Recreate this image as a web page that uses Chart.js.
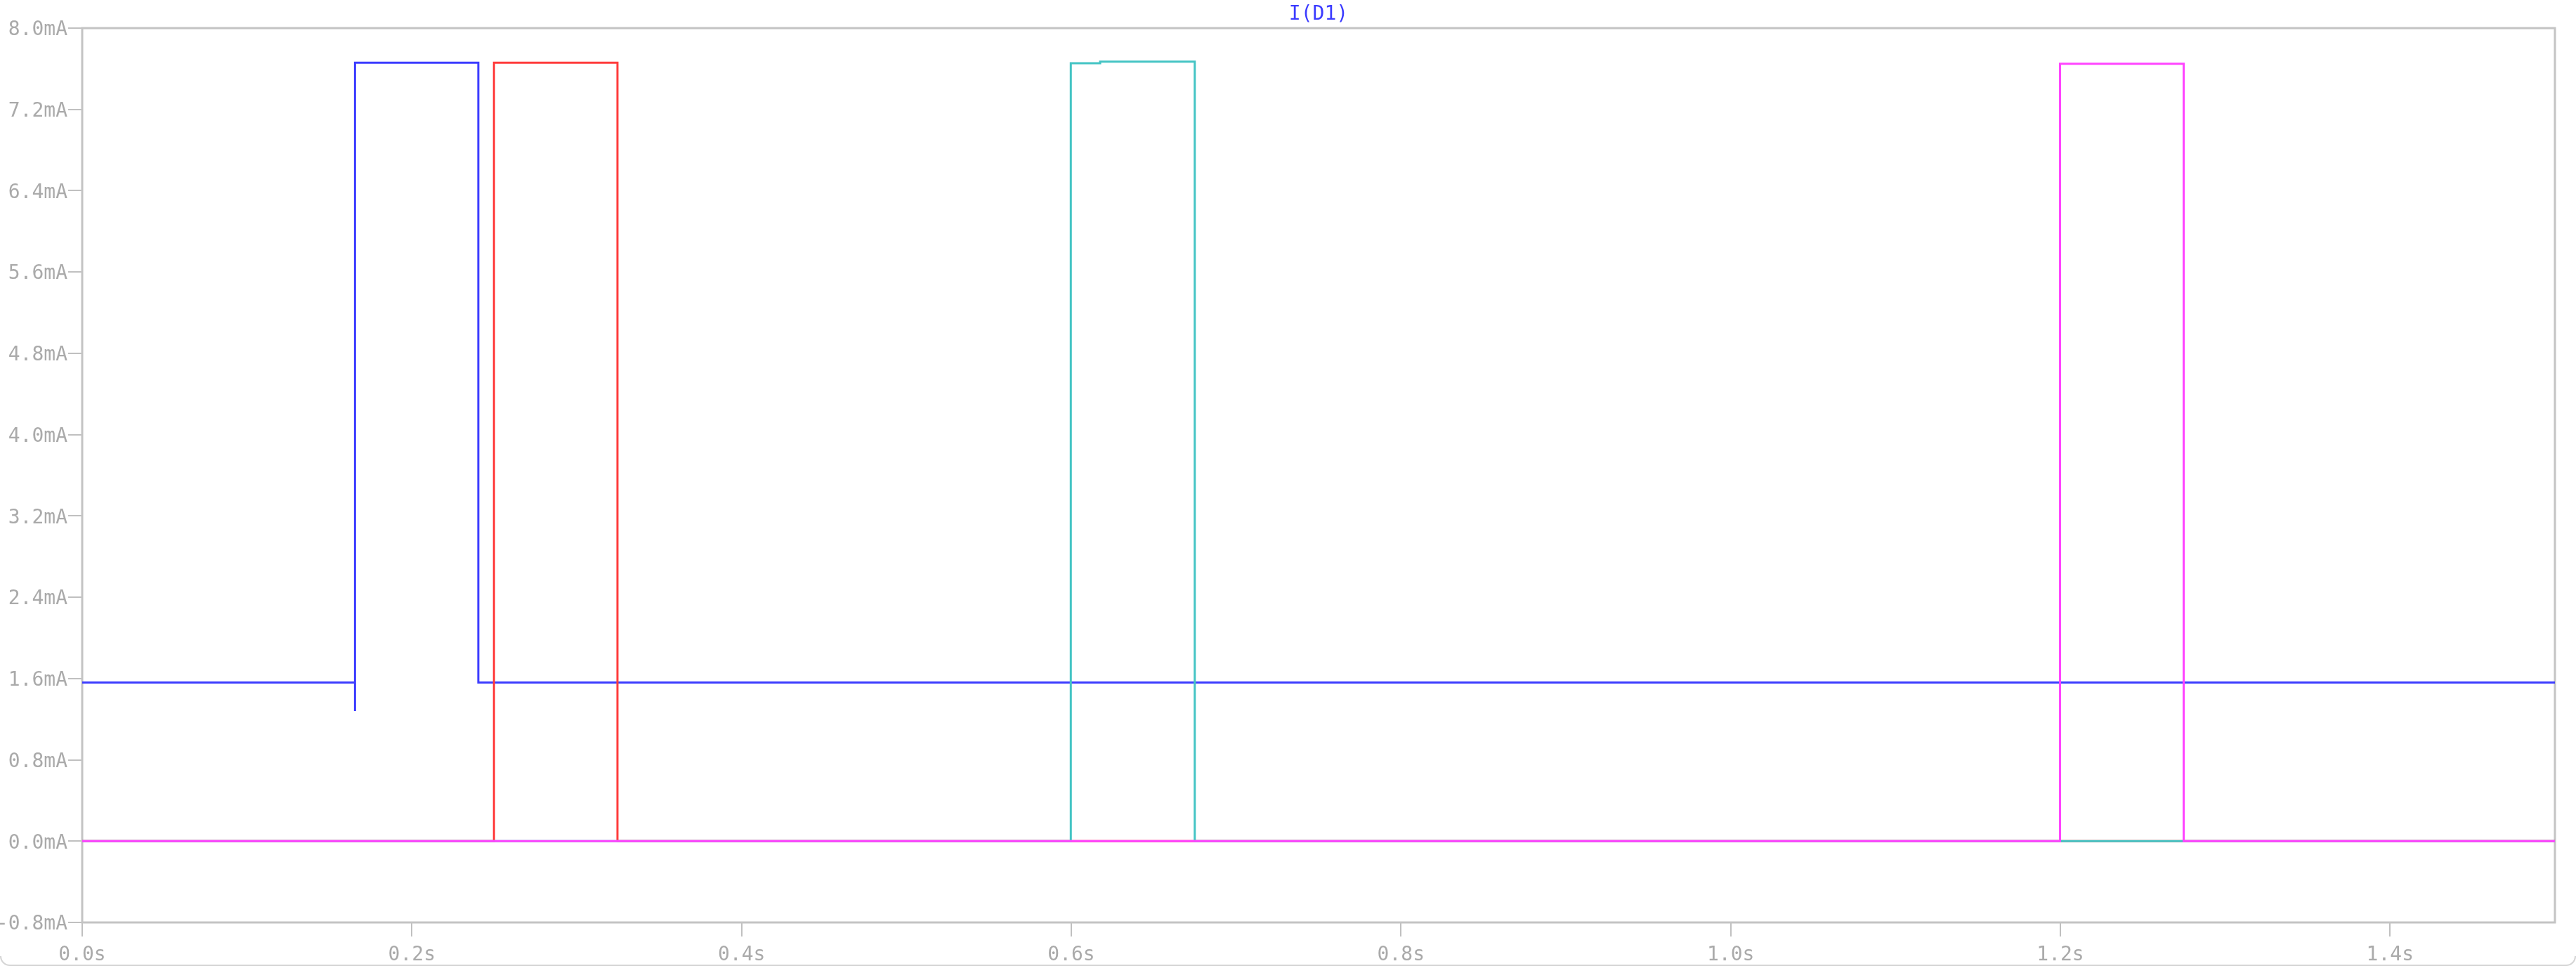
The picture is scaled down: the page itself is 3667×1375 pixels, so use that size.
<!DOCTYPE html>
<html>
<head>
<meta charset="utf-8">
<script src="https://cdn.jsdelivr.net/npm/chart.js@4/dist/chart.umd.min.js"></script>
<style>
  html, body { margin: 0; padding: 0; background: #ffffff; overflow: hidden; }
  #wrap { width: 3667px; height: 1375px; position: relative; }
  #edge { position: absolute; left: 0; right: 0; bottom: 0; height: 14px;
          border: 2px solid #d4d4d4; border-top: none;
          border-radius: 0 0 14px 14px; box-sizing: border-box; pointer-events: none; }
</style>
</head>
<body>
<div id="wrap"><canvas id="c" width="3667" height="1375"></canvas><div id="edge"></div></div>
<script>
// ---- data (time in s, current in mA); each point is where the trace changes value ----
const titleText = "I(D1)";
const yTicks = [-0.8, 0.0, 0.8, 1.6, 2.4, 3.2, 4.0, 4.8, 5.6, 6.4, 7.2, 8.0];
const xTicks = [0.0, 0.2, 0.4, 0.6, 0.8, 1.0, 1.2, 1.4];

const blueT = [0.0, 0.1655, 0.1655, 0.2403, 1.5];
const blueI = [1.56, 1.28, 7.66, 1.56, 1.56];

const redT = [0.0, 0.2498, 0.3247, 1.5];
const redI = [0.0, 7.66, 0.0, 0.0];

const cyanT = [0.0, 0.5997, 0.6175, 0.6749, 1.5];
const cyanI = [0.0, 7.655, 7.67, 0.0, 0.0];

const magentaT = [0.0, 1.1998, 1.2748, 1.5];
const magentaI = [0.0, 7.65, 0.0, 0.0];

function pts(t, v) { return t.map((x, i) => ({ x: x, y: v[i] })); }

const frame = {
  id: 'frame',
  beforeDatasetsDraw(chart) {
    const a = chart.chartArea, ctx = chart.ctx;
    ctx.save();
    ctx.strokeStyle = '#c4c4c4';
    ctx.lineWidth = 3;
    ctx.strokeRect(a.left, a.top, a.right - a.left, a.bottom - a.top);
    ctx.restore();
  }
};

const mono = "'DejaVu Sans Mono', 'Liberation Mono', monospace";

function ds(label, t, v, color) {
  return {
    label: label, data: pts(t, v), borderColor: color, backgroundColor: color,
    borderWidth: 3, pointRadius: 0, stepped: 'before', fill: false, tension: 0
  };
}

new Chart(document.getElementById('c'), {
  type: 'line',
  data: {
    datasets: [
      ds('step 4', magentaT, magentaI, '#ff44ff'),
      ds('step 3', cyanT, cyanI, '#44c4c4'),
      ds('step 2', redT, redI, '#ff3c3c'),
      ds('step 1', blueT, blueI, '#3c3cff')
    ]
  },
  options: {
    responsive: false,
    animation: false,
    devicePixelRatio: 1,
    layout: { padding: { left: 0, right: 30, top: 0, bottom: 0 } },
    plugins: {
      legend: { display: false },
      tooltip: { enabled: false },
      title: {
        display: true, text: titleText, color: '#3c3cff', fullSize: false,
        font: { family: mono, size: 28, weight: 'normal', lineHeight: 1.0 },
        padding: { top: 7, bottom: 5 }
      }
    },
    scales: {
      x: {
        type: 'linear', min: 0, max: 1.5,
        border: { display: false },
        grid: { drawOnChartArea: false, drawTicks: true, tickLength: 20, color: '#c0c0c0', lineWidth: 2 },
        afterBuildTicks(s) { s.ticks = xTicks.map(v => ({ value: v })); },
        afterFit(s) { s.height = 62; },
        ticks: {
          color: '#aaaaaa', padding: 10, maxRotation: 0, autoSkip: false,
          font: { family: mono, size: 28 },
          callback: v => (Math.abs(v) < 1e-9 ? 0 : v).toFixed(1) + 's'
        }
      },
      y: {
        type: 'linear', min: -0.8, max: 8.0,
        border: { display: false },
        grid: { drawOnChartArea: false, drawTicks: true, tickLength: 20, color: '#c0c0c0', lineWidth: 2 },
        afterBuildTicks(s) { s.ticks = yTicks.map(v => ({ value: v })); },
        afterFit(s) { s.width = 117; },
        ticks: {
          color: '#aaaaaa', padding: 1, autoSkip: false, labelOffset: 3,
          font: { family: mono, size: 28 },
          callback: v => (Math.abs(v) < 1e-9 ? 0 : v).toFixed(1) + 'mA'
        }
      }
    }
  },
  plugins: [frame]
});
</script>
</body>
</html>
